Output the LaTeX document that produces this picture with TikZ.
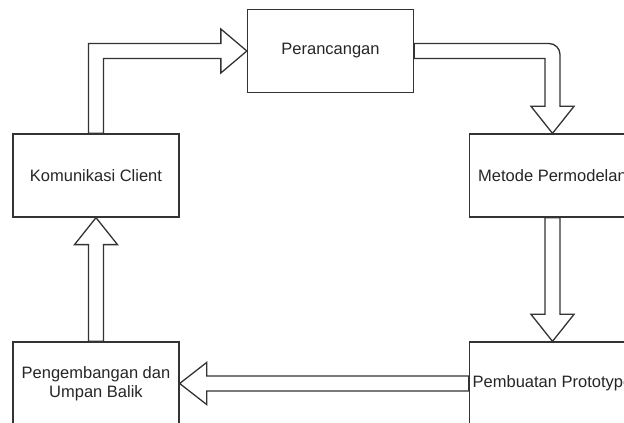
\documentclass[tikz,border=0pt]{standalone}
\usepackage{fontspec}
\setmainfont{Liberation Sans}
\begin{document}
\begin{tikzpicture}[x=1pt,y=1pt,
  lc/.style={draw=black!80, line width=1.3pt, line join=miter},
  box/.style={lc, fill=white, minimum width=166pt, minimum height=83pt, inner sep=0pt,
    align=center, text=black!85, font=\fontsize{16.5pt}{19.5pt}\selectfont},
  fat/.style={lc, fill=white}]
\useasboundingbox (0,0) rectangle (624,423);
\clip (0,0) rectangle (624,423);

\node[box] (per) at (330.5,372) {Perancangan};
\node[box] (kom) at (96,247.5) {Komunikasi Client};
\node[box] (met) at (552.5,247.5) {Metode Permodelan};
\node[box] (pem) at (552.5,39.5) {Pembuatan Prototype};
\node[box] (pen) at (96,39.5) {Pengembangan dan\\Umpan Balik};

% Komunikasi -> Perancangan
\coordinate (a1) at ([xshift=-7.5pt]kom.north);
\coordinate (a2) at ([xshift=7.5pt]kom.north);
\coordinate (a3) at ([xshift=-26pt,yshift=7.5pt]per.west);
\coordinate (a4) at ([xshift=-26pt,yshift=22pt]per.west);
\coordinate (a5) at ([xshift=-26pt,yshift=-22pt]per.west);
\coordinate (a6) at ([xshift=-26pt,yshift=-7.5pt]per.west);
\draw[fat] (a1) |- (a3) -- (a4) -- (per.west) -- (a5) -- (a6) -| (a2) -- cycle;

% Perancangan -> Metode
\coordinate (b1) at ([yshift=7.5pt]per.east);
\coordinate (b2) at ([xshift=7.5pt,yshift=27pt]met.north);
\coordinate (bc) at (b2 |- b1);
\coordinate (b3) at ([xshift=21.5pt,yshift=27pt]met.north);
\coordinate (b4) at ([xshift=-21.5pt,yshift=27pt]met.north);
\coordinate (b5) at ([xshift=-7.5pt,yshift=27pt]met.north);
\coordinate (b6) at ([yshift=-7.5pt]per.east);
\draw[fat] (b1) -- ([xshift=-11pt]bc) arc[start angle=90,end angle=0,radius=11pt]
  -- (b2) -- (b3) -- (met.north) -- (b4) -- (b5) |- (b6) -- cycle;

% Metode -> Pembuatan
\coordinate (c1) at ([xshift=-7.5pt]met.south);
\coordinate (c2) at ([xshift=-7.5pt,yshift=27pt]pem.north);
\coordinate (c3) at ([xshift=-21.5pt,yshift=27pt]pem.north);
\coordinate (c4) at ([xshift=21.5pt,yshift=27pt]pem.north);
\coordinate (c5) at ([xshift=7.5pt,yshift=27pt]pem.north);
\coordinate (c6) at ([xshift=7.5pt]met.south);
\draw[fat] (c1) -- (c2) -- (c3) -- (pem.north) -- (c4) -- (c5) -- (c6) -- cycle;

% Pembuatan -> Pengembangan
\coordinate (d1) at ([yshift=7.5pt]pem.west);
\coordinate (d2) at ([xshift=27pt,yshift=7.5pt]pen.east);
\coordinate (d3) at ([xshift=27pt,yshift=21pt]pen.east);
\coordinate (d4) at ([xshift=27pt,yshift=-21pt]pen.east);
\coordinate (d5) at ([xshift=27pt,yshift=-7.5pt]pen.east);
\coordinate (d6) at ([yshift=-7.5pt]pem.west);
\draw[fat] (d1) -- (d2) -- (d3) -- (pen.east) -- (d4) -- (d5) -- (d6) -- cycle;

% Pengembangan -> Komunikasi
\coordinate (e1) at ([xshift=-7.5pt]pen.north);
\coordinate (e2) at ([xshift=-7.5pt,yshift=-27pt]kom.south);
\coordinate (e3) at ([xshift=-21.5pt,yshift=-27pt]kom.south);
\coordinate (e4) at ([xshift=21.5pt,yshift=-27pt]kom.south);
\coordinate (e5) at ([xshift=7.5pt,yshift=-27pt]kom.south);
\coordinate (e6) at ([xshift=7.5pt]pen.north);
\draw[fat] (e1) -- (e2) -- (e3) -- (kom.south) -- (e4) -- (e5) -- (e6) -- cycle;
\end{tikzpicture}
\end{document}
